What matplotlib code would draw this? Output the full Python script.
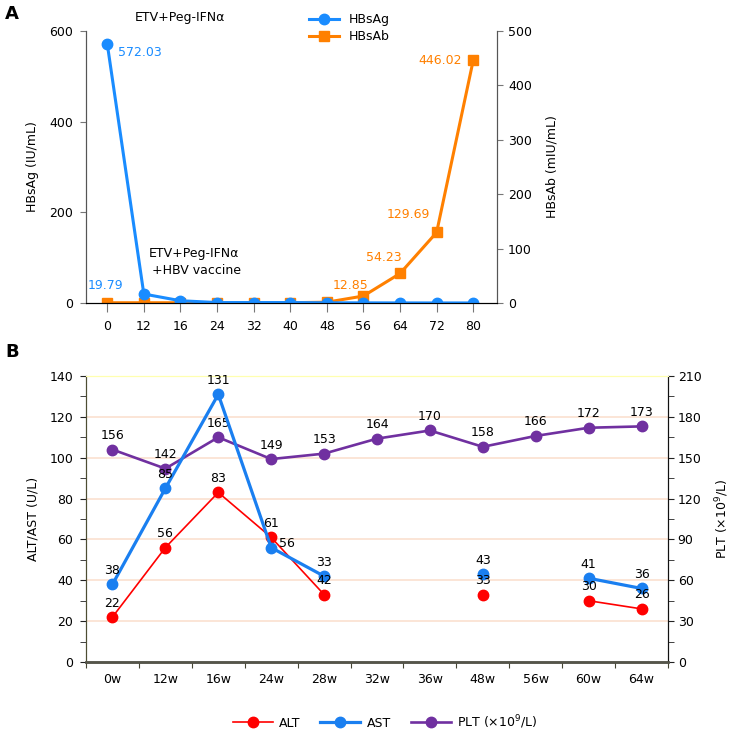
import matplotlib.pyplot as plt
import numpy as np
from matplotlib.ticker import MultipleLocator

# panel A: HBsAg / HBsAb
weeks_a = ["0", "12", "16", "24", "32", "40", "48", "56", "64", "72", "80"]
hbsag = [572.03, 19.79, 5, 1, 1, 1, 0.5, 0.3, 0.2, 0.1, 0.1]
hbsab = [0.5, 0.5, 0.5, 0.5, 0.5, 0.5, 1.5, 12.85, 54.23, 129.69, 446.02]

# panel B: liver enzymes and platelets
weeks_b = ["0w", "12w", "16w", "24w", "28w", "32w", "36w", "48w", "56w", "60w", "64w"]
alt = [22, 56, 83, 61, 33, np.nan, np.nan, 33, np.nan, 30, 26]
ast = [38, 85, 131, 56, 42, np.nan, np.nan, 43, np.nan, 41, 36]
plt_count = [156, 142, 165, 149, 153, 164, 170, 158, 166, 172, 173]
# labels as printed in the source figure (28w ALT/AST labels are swapped there)
alt_labels = ["22", "56", "83", "61", "42", "", "", "33", "", "30", "26"]
ast_labels = ["38", "85", "131", "56", "33", "", "", "43", "", "41", "36"]

BLUE = "#1a8cff"
ORANGE = "#ff8000"
RED = "#ff0000"
BLUE_B = "#1a7ff0"
PURPLE = "#7030a0"
FS = 9

plt.rcParams["font.family"] = "DejaVu Sans"
fig = plt.figure(figsize=(7.36, 7.46), dpi=100)

# ---------------- panel A ----------------
axa = fig.add_axes([86 / 736, 1 - 303 / 746, 411 / 736, 272 / 746])
axa2 = axa.twinx()
axa.set_zorder(axa2.get_zorder() + 1)
axa.patch.set_visible(False)

xa = np.arange(len(weeks_a))
la, = axa.plot(xa, hbsag, "-o", color=BLUE, lw=2.2, ms=7.5, label="HBsAg")
lb, = axa2.plot(xa, hbsab, "-s", color=ORANGE, lw=2.2, ms=7, label="HBsAb")

axa.set_xlim(-0.58, 10.65)
axa.set_ylim(0, 600)
axa2.set_ylim(0, 500)
axa.set_yticks([0, 200, 400, 600])
axa2.set_yticks([0, 100, 200, 300, 400, 500])
axa.set_xticks(xa)
axa.set_xticklabels(weeks_a)

for a in (axa, axa2):
    a.spines["top"].set_visible(False)
    a.spines["left"].set_color("#555555")
    a.spines["right"].set_color("#555555")
    a.spines["bottom"].set_color("#000000")
axa.tick_params(axis="x", length=6.5, pad=6, color="#777777", labelsize=FS)
axa.tick_params(axis="y", length=4.5, pad=5, color="#777777", labelsize=FS)
axa2.tick_params(axis="y", length=4, pad=4, color="#777777", labelsize=FS)

axa.set_ylabel("HBsAg (IU/mL)", fontsize=FS, va="center")
axa.yaxis.set_label_coords(-0.129, 0.5)
axa2.set_ylabel("HBsAb (mIU/mL)", fontsize=FS, va="center", rotation=90)
axa2.yaxis.set_label_coords(1.134, 0.5)

axa.annotate(f"{hbsag[0]:.2f}", (0, hbsag[0]), xytext=(11, -9), textcoords="offset pixels",
             ha="left", va="center", color=BLUE, fontsize=FS)
axa.annotate(f"{hbsag[1]:.2f}", (1, hbsag[1]), xytext=(-38, 9), textcoords="offset pixels",
             ha="center", va="center", color=BLUE, fontsize=FS)
ab_offsets = {7: (-13, 11), 8: (-16, 16), 9: (-28, 18), 10: (-11, 0)}
for i, (dx, dy) in ab_offsets.items():
    axa2.annotate(f"{hbsab[i]:.2f}", (i, hbsab[i]), xytext=(dx, dy), textcoords="offset pixels",
                  ha="right" if i == 10 else "center", va="center", color=ORANGE, fontsize=FS)

fig.text(180 / 736, 1 - 17 / 746, "ETV+Peg-IFN\u03b1", ha="center", va="center", fontsize=FS)
fig.text(194 / 736, 1 - 262 / 746, "ETV+Peg-IFN\u03b1\n +HBV vaccine", ha="center", va="center",
         fontsize=FS, linespacing=1.5)
fig.text(5 / 736, 1 - 14 / 746, "A", fontsize=13, fontweight="bold", va="center")

fig.legend(handles=[la, lb], loc="upper left", bbox_to_anchor=(309 / 736, 1 - 13 / 746),
           frameon=False, fontsize=FS, handlelength=2.4, handletextpad=0.8,
           labelspacing=0.35, borderaxespad=0, borderpad=0)

# ---------------- panel B ----------------
axb = fig.add_axes([86 / 736, 1 - 662 / 746, 582 / 736, 286 / 746])
axb2 = axb.twinx()
axb.set_zorder(axb2.get_zorder() + 1)
axb.patch.set_visible(False)

xb = np.arange(len(weeks_b))
h_plt, = axb2.plot(xb, plt_count, "-o", color=PURPLE, lw=1.9, ms=7.5, label="PLT (\u00d710$^9$/L)")
h_alt, = axb.plot(xb, alt, "-o", color=RED, lw=1.2, ms=7.5, label="ALT")
h_ast, = axb.plot(xb, ast, "-o", color=BLUE_B, lw=2.3, ms=7.5, label="AST")

axb.set_xlim(-0.5, 10.5)
axb.set_ylim(0, 140)
axb2.set_ylim(0, 210)
axb.yaxis.set_major_locator(MultipleLocator(20))
axb.yaxis.set_minor_locator(MultipleLocator(10))
axb2.yaxis.set_major_locator(MultipleLocator(30))
axb2.yaxis.set_minor_locator(MultipleLocator(15))

for yv in axb2.get_yticks():
    if 0 < yv < 210:
        axb2.axhline(yv, color="#fbe0cf", lw=1.2, zorder=0)

axb.set_xticks(np.arange(-0.5, 11, 1))
axb.set_xticklabels([])
axb.set_xticks(xb, minor=True)
axb.set_xticklabels(weeks_b, minor=True)
axb.tick_params(axis="x", which="major", length=4, color="#444433")
axb.tick_params(axis="x", which="minor", length=0, pad=8, labelsize=FS)
axb.tick_params(axis="y", which="both", length=4, pad=5, labelsize=FS, color="#222222")
axb2.tick_params(axis="y", which="both", length=4, pad=3, labelsize=FS, color="#222222")

for a in (axb, axb2):
    a.spines["top"].set_color("#ffffb0")
    a.spines["left"].set_color("#4d4d33")
    a.spines["right"].set_color("#111111")
    a.spines["bottom"].set_color("#55554a")
    a.spines["bottom"].set_linewidth(1.8)

axb.set_ylabel("ALT/AST (U/L)", fontsize=FS, va="center")
axb.yaxis.set_label_coords(-0.091, 0.5)
axb2.set_ylabel("PLT (\u00d710$^9$/L)", fontsize=FS, va="center", rotation=90)
axb2.yaxis.set_label_coords(1.093, 0.5)

for i in xb:
    if alt_labels[i]:
        axb.annotate(alt_labels[i], (i, alt[i]), xytext=(0, 14), textcoords="offset pixels",
                     ha="center", va="center", fontsize=FS)
    if ast_labels[i]:
        off = (16, 4) if i == 3 else (0, 14)
        axb.annotate(ast_labels[i], (i, ast[i]), xytext=off, textcoords="offset pixels",
                     ha="center", va="center", fontsize=FS)
    axb2.annotate(str(plt_count[i]), (i, plt_count[i]), xytext=(0, 14), textcoords="offset pixels",
                  ha="center", va="center", fontsize=FS)

fig.text(5 / 736, 1 - 352 / 746, "B", fontsize=13, fontweight="bold", va="center")

fig.legend(handles=[h_alt, h_ast, h_plt], loc="center", bbox_to_anchor=(385 / 736, 1 - 722 / 746),
           ncol=3, frameon=False, fontsize=FS, handlelength=3.2, handletextpad=0.5,
           columnspacing=1.6)

fig.savefig("out.png", dpi=100)
